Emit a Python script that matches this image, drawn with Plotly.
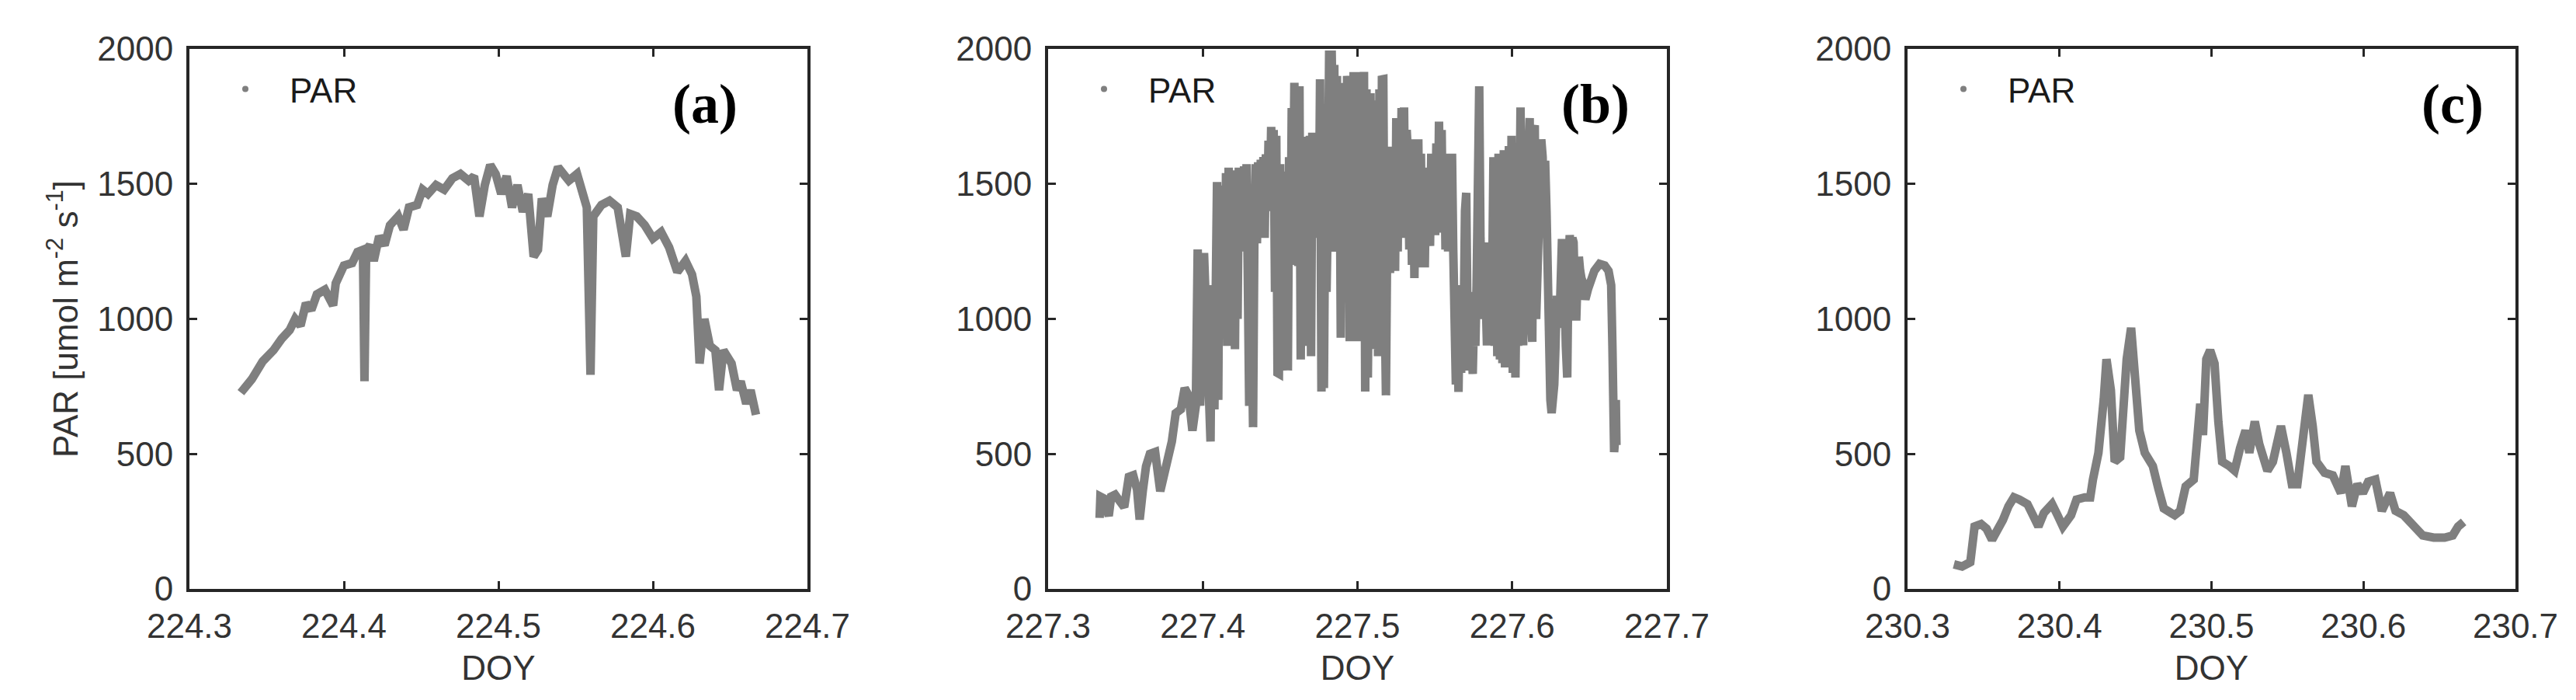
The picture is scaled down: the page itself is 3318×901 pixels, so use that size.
import plotly.graph_objects as go

# === Panel (a): DOY 224
doy_a = [224.3333, 224.3404, 224.3474, 224.3544, 224.3596, 224.3649, 224.3684, 224.3719, 224.3754, 224.3789,
         224.3825, 224.3877, 224.3930, 224.3947, 224.4000, 224.4053, 224.4088, 224.4123, 224.4133, 224.4144,
         224.4168, 224.4193, 224.4228, 224.4263, 224.4298, 224.4351, 224.4386, 224.4421, 224.4474, 224.4509,
         224.4544, 224.4596, 224.4649, 224.4702, 224.4754, 224.4807, 224.4842, 224.4877, 224.4912, 224.4947,
         224.4982, 224.5018, 224.5053, 224.5088, 224.5123, 224.5158, 224.5193, 224.5228, 224.5256, 224.5281,
         224.5316, 224.5351, 224.5386, 224.5421, 224.5456, 224.5509, 224.5544, 224.5572, 224.5596, 224.5614,
         224.5667, 224.5719, 224.5772, 224.5825, 224.5853, 224.5895, 224.5947, 224.6000, 224.6053, 224.6105,
         224.6158, 224.6211, 224.6253, 224.6281, 224.6302, 224.6333, 224.6368, 224.6404, 224.6428, 224.6456,
         224.6509, 224.6544, 224.6568, 224.6604, 224.6632, 224.6660, 224.6667]
par_a = [727, 777, 843, 884, 926, 959, 1000, 975, 1058, 1033,
         1091, 1108, 1050, 1132, 1198, 1207, 1248, 1256, 769, 1256,
         1273, 1215, 1306, 1273, 1347, 1380, 1331, 1413, 1422, 1479,
         1463, 1496, 1479, 1521, 1537, 1512, 1529, 1380, 1496, 1570,
         1537, 1463, 1529, 1413, 1496, 1397, 1463, 1231, 1256, 1446,
         1380, 1496, 1562, 1537, 1512, 1537, 1463, 1413, 793, 1380,
         1422, 1438, 1413, 1231, 1389, 1380, 1347, 1298, 1322, 1265,
         1174, 1215, 1165, 1083, 835, 1000, 901, 884, 736, 884,
         835, 736, 769, 686, 736, 661, 645]

# === Panel (b): DOY 227 (very cloudy day, read densely)
doy_b = [227.3333, 227.3338, 227.3358, 227.3375, 227.3392, 227.3408, 227.3433, 227.3467, 227.3492, 227.3522,
         227.3550, 227.3575, 227.3592, 227.3612, 227.3633, 227.3658, 227.3692, 227.3725, 227.3750, 227.3775,
         227.3800, 227.3825, 227.3858, 227.3883, 227.3908, 227.3933, 227.3955, 227.3967, 227.3983, 227.4008,
         227.4033, 227.4050, 227.4058, 227.4075, 227.4092, 227.4100, 227.4108, 227.4117, 227.4125, 227.4133,
         227.4142, 227.4150, 227.4158, 227.4167, 227.4175, 227.4183, 227.4192, 227.4200, 227.4208, 227.4217,
         227.4225, 227.4233, 227.4242, 227.4250, 227.4258, 227.4267, 227.4275, 227.4283, 227.4292, 227.4300,
         227.4308, 227.4317, 227.4325, 227.4333, 227.4342, 227.4350, 227.4358, 227.4367, 227.4375, 227.4383,
         227.4392, 227.4400, 227.4408, 227.4417, 227.4425, 227.4433, 227.4442, 227.4450, 227.4458, 227.4467,
         227.4475, 227.4483, 227.4492, 227.4500, 227.4508, 227.4517, 227.4525, 227.4533, 227.4542, 227.4550,
         227.4558, 227.4567, 227.4575, 227.4583, 227.4592, 227.4600, 227.4608, 227.4617, 227.4625, 227.4633,
         227.4642, 227.4650, 227.4658, 227.4667, 227.4675, 227.4683, 227.4692, 227.4700, 227.4708, 227.4717,
         227.4725, 227.4733, 227.4742, 227.4750, 227.4758, 227.4767, 227.4775, 227.4783, 227.4792, 227.4800,
         227.4808, 227.4817, 227.4825, 227.4833, 227.4842, 227.4850, 227.4858, 227.4867, 227.4875, 227.4883,
         227.4892, 227.4900, 227.4908, 227.4917, 227.4925, 227.4933, 227.4942, 227.4950, 227.4958, 227.4967,
         227.4975, 227.4983, 227.4992, 227.5000, 227.5008, 227.5017, 227.5025, 227.5033, 227.5042, 227.5050,
         227.5058, 227.5067, 227.5075, 227.5084, 227.5092, 227.5100, 227.5108, 227.5117, 227.5126, 227.5133,
         227.5142, 227.5151, 227.5158, 227.5167, 227.5175, 227.5184, 227.5192, 227.5201, 227.5210, 227.5218,
         227.5226, 227.5235, 227.5243, 227.5251, 227.5260, 227.5268, 227.5276, 227.5285, 227.5293, 227.5301,
         227.5310, 227.5318, 227.5326, 227.5335, 227.5343, 227.5352, 227.5360, 227.5368, 227.5377, 227.5385,
         227.5393, 227.5402, 227.5410, 227.5418, 227.5427, 227.5435, 227.5444, 227.5452, 227.5460, 227.5469,
         227.5477, 227.5485, 227.5494, 227.5502, 227.5510, 227.5519, 227.5527, 227.5535, 227.5544, 227.5552,
         227.5561, 227.5569, 227.5577, 227.5586, 227.5594, 227.5602, 227.5611, 227.5619, 227.5628, 227.5636,
         227.5645, 227.5653, 227.5661, 227.5670, 227.5678, 227.5686, 227.5695, 227.5703, 227.5711, 227.5720,
         227.5728, 227.5737, 227.5745, 227.5753, 227.5762, 227.5770, 227.5778, 227.5787, 227.5795, 227.5803,
         227.5812, 227.5820, 227.5828, 227.5837, 227.5845, 227.5854, 227.5862, 227.5870, 227.5879, 227.5887,
         227.5895, 227.5904, 227.5912, 227.5921, 227.5929, 227.5937, 227.5946, 227.5954, 227.5962, 227.5971,
         227.5979, 227.5987, 227.5996, 227.6004, 227.6013, 227.6021, 227.6029, 227.6038, 227.6046, 227.6054,
         227.6063, 227.6071, 227.6080, 227.6088, 227.6096, 227.6105, 227.6113, 227.6121, 227.6130, 227.6138,
         227.6146, 227.6155, 227.6163, 227.6172, 227.6180, 227.6188, 227.6197, 227.6205, 227.6213, 227.6222,
         227.6230, 227.6238, 227.6247, 227.6255, 227.6264, 227.6272, 227.6280, 227.6289, 227.6297, 227.6305,
         227.6314, 227.6322, 227.6330, 227.6339, 227.6347, 227.6356, 227.6364, 227.6372, 227.6381, 227.6389,
         227.6397, 227.6405, 227.6414, 227.6422, 227.6431, 227.6439, 227.6448, 227.6456, 227.6465, 227.6473,
         227.6490, 227.6507, 227.6531, 227.6565, 227.6598, 227.6623, 227.6640, 227.6648, 227.6652, 227.6659,
         227.6666, 227.6670, 227.6674]
par_b = [263, 342, 336, 283, 270, 342, 349, 322, 303, 415,
         421, 368, 257, 362, 454, 500, 507, 362, 415, 467,
         546, 651, 665, 744, 717, 586, 678, 1257, 678, 1244,
         691, 546, 1125, 665, 1507, 700, 1480, 928, 1494, 1000,
         928, 1540, 900, 1560, 950, 902, 1500, 1415, 888, 1550,
         1000, 1560, 1300, 1560, 1310, 1565, 1250, 1573, 900, 678,
         1300, 640, 599, 1270, 1573, 1280, 1580, 1310, 1590, 1320,
         1600, 1300, 1610, 1400, 1660, 1420, 1711, 1500, 1700, 1100,
         1678, 800, 797, 1573, 809, 1540, 850, 1546, 820, 809,
         1599, 1200, 1781, 1300, 1875, 1200, 1861, 1196, 1862, 850,
         1621, 1150, 1675, 1116, 1650, 900, 1678, 862, 1690, 1300,
         1678, 1320, 1690, 1300, 1888, 731, 1500, 744, 1515, 1100,
         1388, 1994, 1300, 1994, 1648, 1941, 1249, 1900, 1310, 1847,
         930, 1678, 1257, 1874, 1257, 1900, 1849, 917, 1700, 1125,
         1914, 928, 1888, 917, 1888, 1100, 1914, 1200, 1915, 731,
         1850, 783, 1836, 1836, 890, 928, 1809, 900, 1809, 862,
         1850, 862, 1887, 1888, 1100, 717, 1300, 1638, 1170, 1635,
         1204, 1612, 1178, 1744, 1250, 1744, 1300, 1781, 1350, 1783,
         1300, 1700, 1612, 1257, 1665, 1200, 1665, 1151, 1600, 1200,
         1665, 1191, 1612, 1191, 1560, 1191, 1560, 1270, 1560, 1270,
         1612, 1310, 1612, 1310, 1650, 1320, 1731, 1330, 1700, 1323,
         1612, 1257, 1612, 1250, 1500, 1300, 1612, 1257, 900, 757,
         1000, 730, 1050, 800, 1125, 950, 1400, 1467, 1000, 809,
         1100, 800, 796, 1000, 900, 1125, 1500, 1862, 1300, 1125,
         1000, 1283, 1000, 902, 1200, 902, 1257, 1100, 1599, 900,
         1580, 862, 1612, 850, 1600, 836, 1625, 820, 1620, 850,
         1640, 862, 1678, 800, 1650, 783, 1191, 900, 1500, 1783,
         1100, 902, 1500, 950, 1230, 1600, 1744, 1000, 915, 1700,
         1717, 1000, 1300, 1125, 1500, 1665, 1600, 1300, 1586, 1400,
         900, 730, 700, 651, 700, 757, 900, 1086, 1050, 967,
         1200, 1296, 1100, 1099, 900, 783, 1200, 1310, 1250, 1300,
         1283, 1100, 994, 1150, 1230, 1180, 1150, 1138, 1100, 1072,
         1110, 1140, 1178, 1204, 1198, 1178, 1125, 900, 730, 507,
         560, 700, 533]

# === Panel (c): DOY 230
doy_c = [230.3305, 230.3359, 230.3413, 230.3441, 230.3484, 230.3520, 230.3556, 230.3592, 230.3628, 230.3664,
         230.3700, 230.3735, 230.3789, 230.3825, 230.3861, 230.3897, 230.3951, 230.3987, 230.4022, 230.4076,
         230.4112, 230.4166, 230.4202, 230.4220, 230.4256, 230.4291, 230.4309, 230.4338, 230.4363, 230.4399,
         230.4424, 230.4442, 230.4471, 230.4496, 230.4525, 230.4561, 230.4614, 230.4650, 230.4686, 230.4758,
         230.4794, 230.4830, 230.4883, 230.4901, 230.4926, 230.4944, 230.4966, 230.4991, 230.5020, 230.5045,
         230.5070, 230.5117, 230.5152, 230.5188, 230.5224, 230.5249, 230.5285, 230.5314, 230.5368, 230.5404,
         230.5457, 230.5493, 230.5529, 230.5565, 230.5601, 230.5637, 230.5666, 230.5691, 230.5744, 230.5798,
         230.5852, 230.5881, 230.5924, 230.5960, 230.5996, 230.6031, 230.6078, 230.6121, 230.6175, 230.6211,
         230.6265, 230.6318, 230.6390, 230.6462, 230.6534, 230.6587, 230.6623, 230.6659]
par_c = [91, 83, 99, 231, 240, 223, 182, 215, 256, 306,
         339, 331, 314, 273, 231, 281, 314, 273, 231, 273,
         331, 339, 339, 405, 504, 702, 851, 736, 471, 488,
         702, 851, 967, 785, 587, 504, 455, 372, 298, 273,
         289, 380, 405, 521, 686, 570, 851, 884, 835, 620,
         471, 455, 438, 521, 587, 504, 620, 537, 438, 471,
         603, 504, 388, 388, 570, 719, 603, 471, 430, 421,
         355, 455, 306, 388, 355, 397, 405, 289, 355, 289,
         273, 240, 198, 190, 190, 198, 231, 248]

panels = [
    (doy_a, par_a, 224.3, "(a)"),
    (doy_b, par_b, 227.3, "(b)"),
    (doy_c, par_c, 230.3, "(c)"),
]

# === Pixel layout of the 3318x901 canvas
W, H = 3318, 901
x_doms = [(236, 1032), (1342, 2139), (2449, 3232)]
y_top, y_bot = 55, 750
tag_x = [0.834, 0.884, 0.897]

GRAY = "#7f7f7f"
AXC = "#262626"
TXT = "#333333"
FONT = "Liberation Sans, Arial, sans-serif"

fig = go.Figure()
layout = dict(
    width=W, height=H,
    margin=dict(l=0, r=0, t=0, b=0),
    paper_bgcolor="white", plot_bgcolor="white",
    font=dict(family=FONT, size=44, color=TXT),
    annotations=[],
)

for i, (doy, par, x0, tag) in enumerate(panels):
    n = "" if i == 0 else str(i + 1)
    leg = "legend" + n
    fig.add_trace(go.Scatter(
        x=doy, y=par, mode="lines", xaxis="x" + n, yaxis="y" + n,
        line=dict(color=GRAY, width=11), showlegend=False,
    ))
    # legend-only entry (dot marker, as in the original)
    fig.add_trace(go.Scatter(
        x=[None], y=[None], mode="markers", name="PAR", xaxis="x" + n, yaxis="y" + n,
        marker=dict(color=GRAY, size=8), legend=leg, showlegend=True,
    ))
    l, r = x_doms[i]
    axis_common = dict(
        showline=True, linecolor=AXC, linewidth=4, mirror="ticks",
        ticks="inside", ticklen=10, tickwidth=3, tickcolor=AXC,
        showgrid=False, zeroline=False, automargin=False,
        tickfont=dict(family=FONT, size=44, color=TXT),
    )
    layout["xaxis" + n] = dict(
        axis_common, domain=[l / W, r / W], anchor="y" + n,
        range=[x0, x0 + 0.4], tick0=x0, dtick=0.1, tickformat=".1f",
        ticklabelstandoff=6,
        title=dict(text="DOY", standoff=16, font=dict(family=FONT, size=44, color=TXT)),
    )
    layout["yaxis" + n] = dict(
        axis_common, domain=[(H - y_bot) / H, (H - y_top) / H], anchor="x" + n,
        range=[0, 2000], tick0=0, dtick=500, ticklabelstandoff=8,
    )
    if i == 0:
        layout["yaxis"]["title"] = dict(
            text="PAR [umol m<sup>-2</sup> s<sup>-1</sup>]", standoff=12,
            font=dict(family=FONT, size=44, color=TXT),
        )
    layout[leg] = dict(
        x=(l + 15) / W, y=(H - 107) / H, xanchor="left", yanchor="middle",
        bgcolor="rgba(0,0,0,0)", itemwidth=104,
        font=dict(family=FONT, size=44, color="#1a1a1a"),
    )
    layout["annotations"].append(dict(
        text="<b>" + tag + "</b>", xref="x" + n + " domain", yref="y" + n + " domain",
        x=tag_x[i], y=0.898, xanchor="center", yanchor="middle", showarrow=False,
        font=dict(family="Liberation Serif, Times New Roman, serif", size=72, color="black"),
    ))

fig.update_layout(**layout)
fig.write_html("out.html")
